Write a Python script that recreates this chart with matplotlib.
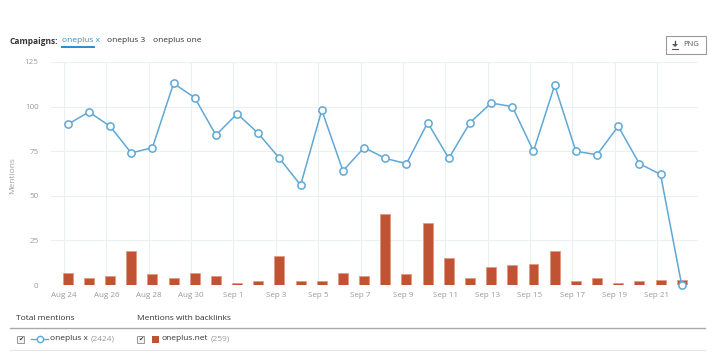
import matplotlib
matplotlib.use("Agg")
import matplotlib.pyplot as plt
from matplotlib.patches import Rectangle, Polygon
from matplotlib.lines import Line2D
import numpy as np

plt.rcParams['font.family'] = ['Open Sans', 'DejaVu Sans']

dates = ["Aug 24", "Aug 25", "Aug 26", "Aug 27", "Aug 28", "Aug 29", "Aug 30", "Aug 31",
         "Sep 1", "Sep 2", "Sep 3", "Sep 4", "Sep 5", "Sep 6", "Sep 7", "Sep 8", "Sep 9",
         "Sep 10", "Sep 11", "Sep 12", "Sep 13", "Sep 14", "Sep 15", "Sep 16", "Sep 17",
         "Sep 18", "Sep 19", "Sep 20", "Sep 21", "Sep 22"]
total_mentions = [90, 97, 89, 74, 77, 113, 105, 84, 96, 85, 71, 56, 98, 64, 77, 71, 68,
                  91, 71, 91, 102, 100, 75, 112, 75, 73, 89, 68, 62, 0]
backlinks = [7, 4, 5, 19, 6, 4, 7, 5, 1, 2, 16, 2, 2, 7, 5, 40, 6, 35, 15, 4,
             10, 11, 12, 19, 2, 4, 1, 2, 3, 3]
yticks = [0, 25, 50, 75, 100, 125]
campaigns = ["oneplus x", "oneplus 3", "oneplus one"]

W, H = 720, 355
fig = plt.figure(figsize=(W / 100, H / 100), dpi=100)
renderer = fig.canvas.get_renderer()

ax_l, ax_r, ax_t, ax_b = 51, 698, 62, 285
ax = fig.add_axes([ax_l / W, 1 - ax_b / H, (ax_r - ax_l) / W, (ax_b - ax_t) / H])

x = np.arange(len(dates))
line_c = "#5fa8d6"
bar_c = "#c05334"

ax.bar(x, backlinks, width=0.47, color=bar_c, edgecolor="#e39a82", linewidth=0.6, zorder=2)
ax.plot(x, total_mentions, color=line_c, lw=1.1, marker="o", ms=5.2, mfc="white",
        mec=line_c, mew=1.1, zorder=3, clip_on=False)

ax.set_ylim(0, 125)
ax.set_xlim(-0.79, 29.77)
ax.set_yticks(yticks)
ax.set_yticklabels([str(v) for v in yticks])
tick_pos = x[::2] - 0.17
ax.set_xticks(tick_pos)
ax.set_xticklabels(dates[::2])
ax.tick_params(axis="both", length=0, labelsize=5.8, colors="#9a9a9a")
ax.tick_params(axis="y", pad=9)
ax.tick_params(axis="x", pad=5)
for s in ax.spines.values():
    s.set_visible(False)
ax.grid(True, axis="both", color="#eceff1", lw=0.8, zorder=0)
ax.set_axisbelow(True)
fig.text(13 / W, 1 - 176 / H, "Mentions", fontsize=6, color="#a0a0a0", rotation=90,
         va="center", ha="center")

# header
fig.text(10 / W, 1 - 41 / H, "Campaigns:", fontsize=6, fontweight="bold", color="#333333",
         va="center", ha="left")
cx = [62, 107, 153]
for c, xx in zip(campaigns, cx):
    fig.text(xx / W, 1 - 41 / H, c, fontsize=6, color="#2b8fd6" if c == "oneplus x" else "#333333",
             va="center", ha="left")
fig.add_artist(Rectangle((61 / W, 1 - 48 / H), 34 / W, 2 / H, transform=fig.transFigure,
                         color="#2b8fd6", lw=0))

# PNG button
fig.add_artist(Rectangle((666 / W, 1 - 54 / H), 40 / W, 18 / H, transform=fig.transFigure,
                         fill=False, edgecolor="#9a9a9a", lw=0.8))
# download icon drawn as shape
fig.add_artist(Polygon([(672 / W, 1 - 44 / H), (678 / W, 1 - 44 / H), (675 / W, 1 - 47 / H)],
                       closed=True, transform=fig.transFigure, color="#555555", lw=0))
fig.add_artist(Line2D([675 / W, 675 / W], [1 - 40.5 / H, 1 - 44.5 / H], transform=fig.transFigure,
                      color="#555555", lw=1.0))
fig.add_artist(Line2D([672 / W, 678 / W], [1 - 48.5 / H, 1 - 48.5 / H], transform=fig.transFigure,
                      color="#555555", lw=0.8))
fig.text(683 / W, 1 - 45 / H, "PNG", fontsize=5.5, color="#555555", va="center", ha="left")

# bottom legend table
fig.add_artist(Line2D([10 / W, 705 / W], [1 - 328 / H, 1 - 328 / H], transform=fig.transFigure,
                      color="#a9a9a9", lw=1.0))
fig.add_artist(Line2D([10 / W, 705 / W], [1 - 349.5 / H, 1 - 349.5 / H], transform=fig.transFigure,
                      color="#e6e6e6", lw=0.8))
fig.text(16 / W, 1 - 318 / H, "Total mentions", fontsize=6, color="#333333", va="center")
fig.text(137 / W, 1 - 318 / H, "Mentions with backlinks", fontsize=6, color="#333333", va="center")

row_y = 1 - 339 / H
for bx in (17, 137):
    fig.add_artist(Rectangle((bx / W, row_y - 3.5 / H), 7 / W, 7 / H, transform=fig.transFigure,
                             facecolor="#f2f2f2", edgecolor="#8a8a8a", lw=0.6))
    fig.text((bx + 3.5) / W, row_y, "\u2714", fontsize=4.5, color="#333333", va="center", ha="center",
             family=["DejaVu Sans"])
fig.add_artist(Line2D([31 / W, 48 / W], [row_y, row_y], transform=fig.transFigure, color=line_c,
                      lw=1.0))
fig.add_artist(Line2D([39.5 / W], [row_y], transform=fig.transFigure, color=line_c,
                      marker="o", ms=4.5, mfc="white", mec=line_c, mew=1.0, lw=0))


def label_with_count(x0, name, count):
    t = fig.text(x0 / W, row_y, name, fontsize=6, color="#333333", va="center")
    bb = t.get_window_extent(renderer)
    fig.text((bb.x1 + 3) / W, row_y, count, fontsize=6, color="#9a9a9a", va="center")


label_with_count(50, "oneplus x", "(2424)")
fig.add_artist(Rectangle((152 / W, row_y - 3.5 / H), 7 / W, 7 / H, transform=fig.transFigure,
                         facecolor=bar_c, lw=0))
label_with_count(161, "oneplus.net", "(259)")

fig.savefig("out.png", dpi=100)
